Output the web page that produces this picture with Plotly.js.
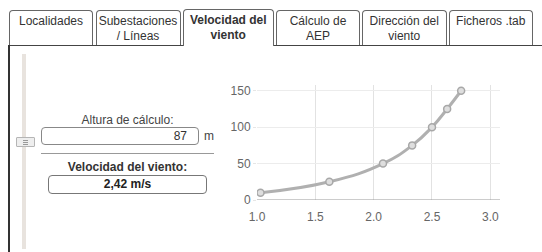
<!DOCTYPE html>
<html><head><meta charset="utf-8">
<script src="https://cdn.plot.ly/plotly-3.0.1.min.js"></script>
<style>
html,body{margin:0;padding:0;width:542px;height:252px;overflow:hidden;background:#fff;font-family:"Liberation Sans",Arial,sans-serif;}
.abs{position:absolute;box-sizing:border-box;}
.tab{position:absolute;box-sizing:border-box;border:1px solid #666;border-bottom:none;border-radius:4px 4px 0 0;background:#fff;font-size:12px;color:#333;text-align:center;line-height:15px;padding-top:3px;}
.tab.active{font-weight:bold;z-index:3;}
</style></head><body>
<div id="tabs"></div>
<div class="abs" style="left:8px;top:45px;width:534px;height:1px;background:#444;"></div>
<div class="abs" style="left:8px;top:45px;width:2px;height:207px;background:#333;"></div>
<!-- slider -->
<div class="abs" style="left:22px;top:54px;width:4px;height:195px;background:#e8e3de;"></div>
<div class="abs" style="left:16px;top:137px;width:19px;height:10px;background:#eeeeee;border:1px solid #b5b5b5;border-radius:1px;">
  <div class="abs" style="left:6px;top:2px;width:5px;height:1px;background:#999;"></div>
  <div class="abs" style="left:6px;top:4px;width:5px;height:1px;background:#999;"></div>
  <div class="abs" style="left:6px;top:6px;width:5px;height:1px;background:#999;"></div>
</div>
<div class="abs" id="lblAlt" style="left:40px;top:113px;width:175px;text-align:center;font-size:12px;color:#444;"></div>
<div class="abs" style="left:41px;top:127px;width:158px;height:18px;border:1px solid #888;border-radius:4px;"></div>
<div class="abs" id="valAlt" style="left:41px;top:129px;width:146px;text-align:right;font-size:12px;color:#333;"></div>
<div class="abs" id="unitAlt" style="left:204px;top:129px;font-size:12px;color:#444;"></div>
<div class="abs" style="left:41px;top:153px;width:173px;height:1px;background:#999;"></div>
<div class="abs" id="lblVel" style="left:40px;top:160px;width:175px;text-align:center;font-size:12px;font-weight:bold;color:#333;"></div>
<div class="abs" style="left:48px;top:175px;width:159px;height:19px;border:1px solid #777;border-radius:4px;"></div>
<div class="abs" id="valVel" style="left:48px;top:177px;width:159px;text-align:center;font-size:12px;font-weight:bold;color:#222;"></div>
<div id="chart" class="abs" style="left:220px;top:70px;width:322px;height:180px;"></div>
<script>
const tabLabels = ["Localidades", "Subestaciones<br>/ Líneas", "Velocidad del<br>viento", "Cálculo de<br>AEP", "Dirección del<br>viento", "Ficheros .tab"];
const activeTab = 2;
const altitudeLabel = "Altura de cálculo:";
const altitudeValue = "87";
const altitudeUnit = "m";
const speedLabel = "Velocidad del viento:";
const speedValue = "2,42 m/s";
// wind profile: speed (m/s) vs height (m)
const windSpeed = [1.03, 1.62, 2.08, 2.33, 2.50, 2.63, 2.75];
const heights = [10, 25, 50, 75, 100, 125, 150];
const xTicks = [1.0, 1.5, 2.0, 2.5, 3.0];
const yTicks = [0, 50, 100, 150];

const tabBoxes = [[9,93],[95.5,180.5],[182.5,274],[276,360],[362,446.5],[449,532.5]];
const tabsDiv = document.getElementById('tabs');
tabLabels.forEach((t,i)=>{
  const d = document.createElement('div');
  d.className = 'tab' + (i===activeTab?' active':'');
  const [l,r] = tabBoxes[i];
  d.style.left = l+'px';
  d.style.width = (r-l)+'px';
  d.style.top = (i===activeTab?9:10)+'px';
  d.style.height = (i===activeTab?37:35)+'px';
  d.innerHTML = t;
  tabsDiv.appendChild(d);
});
document.getElementById('lblAlt').textContent = altitudeLabel;
document.getElementById('valAlt').textContent = altitudeValue;
document.getElementById('unitAlt').textContent = altitudeUnit;
document.getElementById('lblVel').textContent = speedLabel;
document.getElementById('valVel').textContent = speedValue;

Plotly.newPlot('chart', [{
  x: windSpeed, y: heights, type:'scatter', mode:'lines+markers',
  line:{shape:'spline', smoothing:1.3, color:'#b0b0b0', width:3},
  marker:{size:7, color:'#dedede', line:{color:'#a8a8a8', width:1.5}},
  hoverinfo:'none'
}], {
  width:322, height:180,
  margin:{l:37, r:42, t:15, b:50},
  paper_bgcolor:'#fff', plot_bgcolor:'#fff',
  showlegend:false,
  font:{family:'"Liberation Sans", Arial, sans-serif', size:12, color:'#666'},
  xaxis:{range:[1.0, 3.083], tickvals:xTicks, ticktext:xTicks.map(v=>v.toFixed(1)),
    showgrid:true, gridcolor:'#e2e2e2', gridwidth:1, zeroline:false, showline:false,
    ticks:'outside', ticklen:6, tickcolor:'rgba(0,0,0,0)', fixedrange:true},
  yaxis:{range:[0, 157.9], tickvals:yTicks, showgrid:true, gridcolor:'#ececec', zeroline:false,
    showline:false, ticks:'outside', ticklen:3, tickcolor:'#e6e6e6', fixedrange:true},
  shapes:[{type:'line', xref:'paper', yref:'y', x0:0, x1:1, y0:0, y1:0, line:{color:'#999', width:1}}]
}, {displayModeBar:false, staticPlot:true});
</script>
</body></html>
